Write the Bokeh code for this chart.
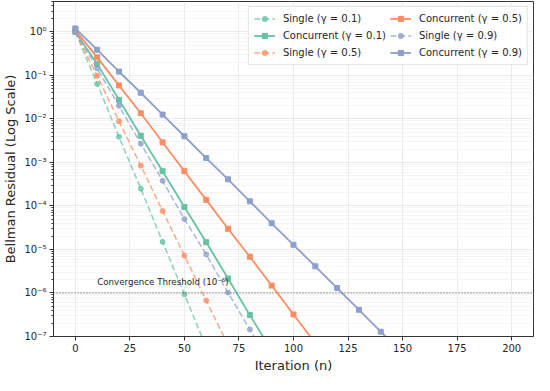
from bokeh.plotting import figure
from bokeh.models import (Range1d, FixedTicker, CustomJSTickFormatter, Span, Label,
                          Legend, LegendItem)
from bokeh.embed import file_html
from bokeh.resources import INLINE

# ---- data ----
iters_single_01 = [0, 10, 20, 30, 40, 50, 60]
single_01 = [1.0, 0.064, 0.0039, 2.5e-4, 1.5e-5, 9.3e-7, 5.7e-8]

iters_conc_01 = [0, 10, 20, 30, 40, 50, 60, 70, 80, 90]
conc_01 = [1.0, 0.184, 0.0275, 0.0041, 6.3e-4, 9.5e-5, 1.47e-5, 2.15e-6, 3.1e-7, 4.7e-8]

iters_single_05 = [0, 10, 20, 30, 40, 50, 60, 70]
single_05 = [1.0, 0.098, 0.0089, 8.4e-4, 7.7e-5, 7.2e-6, 6.7e-7, 6.3e-8]

iters_conc_05 = [0, 10, 20, 30, 40, 50, 60, 70, 80, 90, 100, 110]
conc_05 = [1.1, 0.26, 0.059, 0.0135, 2.9e-3, 6.3e-4, 1.38e-4, 3.0e-5, 6.8e-6, 1.48e-6, 3.2e-7, 7e-8]

iters_single_09 = [0, 10, 20, 30, 40, 50, 60, 70, 80, 90]
single_09 = [1.0, 0.145, 0.02, 0.0027, 3.8e-4, 5e-5, 7.7e-6, 1.02e-6, 1.45e-7, 2e-8]

iters_conc_09 = [0, 10, 20, 30, 40, 50, 60, 70, 80, 90, 100, 110, 120, 130, 140, 150]
conc_09 = [1.2, 0.39, 0.123, 0.04, 0.0126, 0.004, 1.26e-3, 4.1e-4, 1.28e-4, 4.0e-5,
           1.28e-5, 4.1e-6, 1.3e-6, 4.1e-7, 1.29e-7, 4e-8]

threshold = 1e-6
x_ticks = [0, 25, 50, 75, 100, 125, 150, 175, 200]
y_exponents = [-7, -6, -5, -4, -3, -2, -1, 0]
x_title = "Iteration (n)"
y_title = "Bellman Residual (Log Scale)"

series = [
    ("Single (\u03b3 = 0.1)", iters_single_01, single_01, "#66c2a5", True),
    ("Concurrent (\u03b3 = 0.1)", iters_conc_01, conc_01, "#66c2a5", False),
    ("Single (\u03b3 = 0.5)", iters_single_05, single_05, "#fc8d62", True),
    ("Concurrent (\u03b3 = 0.5)", iters_conc_05, conc_05, "#fc8d62", False),
    ("Single (\u03b3 = 0.9)", iters_single_09, single_09, "#8da0cb", True),
    ("Concurrent (\u03b3 = 0.9)", iters_conc_09, conc_09, "#8da0cb", False),
]

FONT = "DejaVu Sans"
TXT = "#262626"

p = figure(width=534, height=375, y_axis_type="log",
           x_range=Range1d(-10, 210), y_range=Range1d(1e-7, 5),
           output_backend="svg", toolbar_location=None,
           min_border_left=0, min_border_right=1, min_border_top=1, min_border_bottom=0)

p.background_fill_color = "white"
p.border_fill_color = "white"
p.outline_line_color = "#333333"
p.outline_line_width = 1

items = []
for label, xs, ys, color, dashed in series:
    if dashed:
        r1 = p.line(xs, ys, line_color=color, line_width=1.5, line_dash="6 3", line_alpha=0.75)
        r2 = p.scatter(xs, ys, marker="circle", size=5, fill_color=color, line_color=color,
                       fill_alpha=0.75, line_alpha=0.75)
    else:
        r1 = p.line(xs, ys, line_color=color, line_width=1.8)
        r2 = p.scatter(xs, ys, marker="square", size=5, fill_color=color, line_color=color)
    items.append(LegendItem(label=label, renderers=[r1, r2]))

span = Span(location=threshold, dimension="width", line_color="#555555",
            line_dash="1 2", line_width=1)
p.add_layout(span)
p.add_layout(Label(x=10, y=1.4e-6, text="Convergence Threshold (10\u207b\u2076)",
                   text_font=FONT, text_font_size="8.7px", text_color=TXT))

legend = Legend(items=items, location="top_right", ncols=2,
                label_text_font=FONT, label_text_font_size="10px", label_text_color=TXT,
                glyph_width=21, glyph_height=13, label_height=13,
                spacing=4, padding=5, margin=5, label_standoff=8,
                border_line_color="#cccccc", border_line_width=1,
                background_fill_color="white", background_fill_alpha=0.9)
p.add_layout(legend)

# axes
p.xaxis.ticker = FixedTicker(ticks=x_ticks)
major_y = [10.0 ** e for e in y_exponents]
minor_y = [k * 10.0 ** e for e in y_exponents for k in range(2, 10)]
p.yaxis.ticker = FixedTicker(ticks=major_y, minor_ticks=minor_y)
p.yaxis.formatter = CustomJSTickFormatter(code="""
const e = Math.round(Math.log10(tick));
const sup = {'-':'\u207b','0':'\u2070','1':'\u00b9','2':'\u00b2','3':'\u00b3','4':'\u2074','5':'\u2075','6':'\u2076','7':'\u2077','8':'\u2078','9':'\u2079'};
return '10' + String(e).split('').map(c => sup[c]).join('');
""")

for ax in (p.xaxis[0], p.yaxis[0]):
    ax.axis_line_color = "#333333"
    ax.major_tick_line_color = "#333333"
    ax.minor_tick_line_color = "#333333"
    ax.major_tick_in = 0
    ax.major_tick_out = 4
    ax.minor_tick_in = 0
    ax.minor_tick_out = 2
    ax.major_label_standoff = 3
    ax.major_label_text_font = FONT
    ax.major_label_text_font_size = "10px"
    ax.major_label_text_color = TXT
    ax.axis_label_text_font = FONT
    ax.axis_label_text_font_size = "13px"
    ax.axis_label_text_font_style = "normal"
    ax.axis_label_text_color = TXT
p.xaxis.minor_tick_line_color = None
p.xaxis.axis_label = x_title
p.yaxis.axis_label = y_title
p.xaxis.axis_label_standoff = 3
p.yaxis.axis_label_standoff = 3

p.xgrid.grid_line_color = "#e6e6e6"
p.ygrid.grid_line_color = "#e6e6e6"
p.ygrid.minor_grid_line_color = "#efefef"
p.xgrid.grid_line_width = 0.8
p.ygrid.grid_line_width = 0.8
p.ygrid.minor_grid_line_width = 0.6

open("out.html", "w").write(file_html(p, INLINE))
